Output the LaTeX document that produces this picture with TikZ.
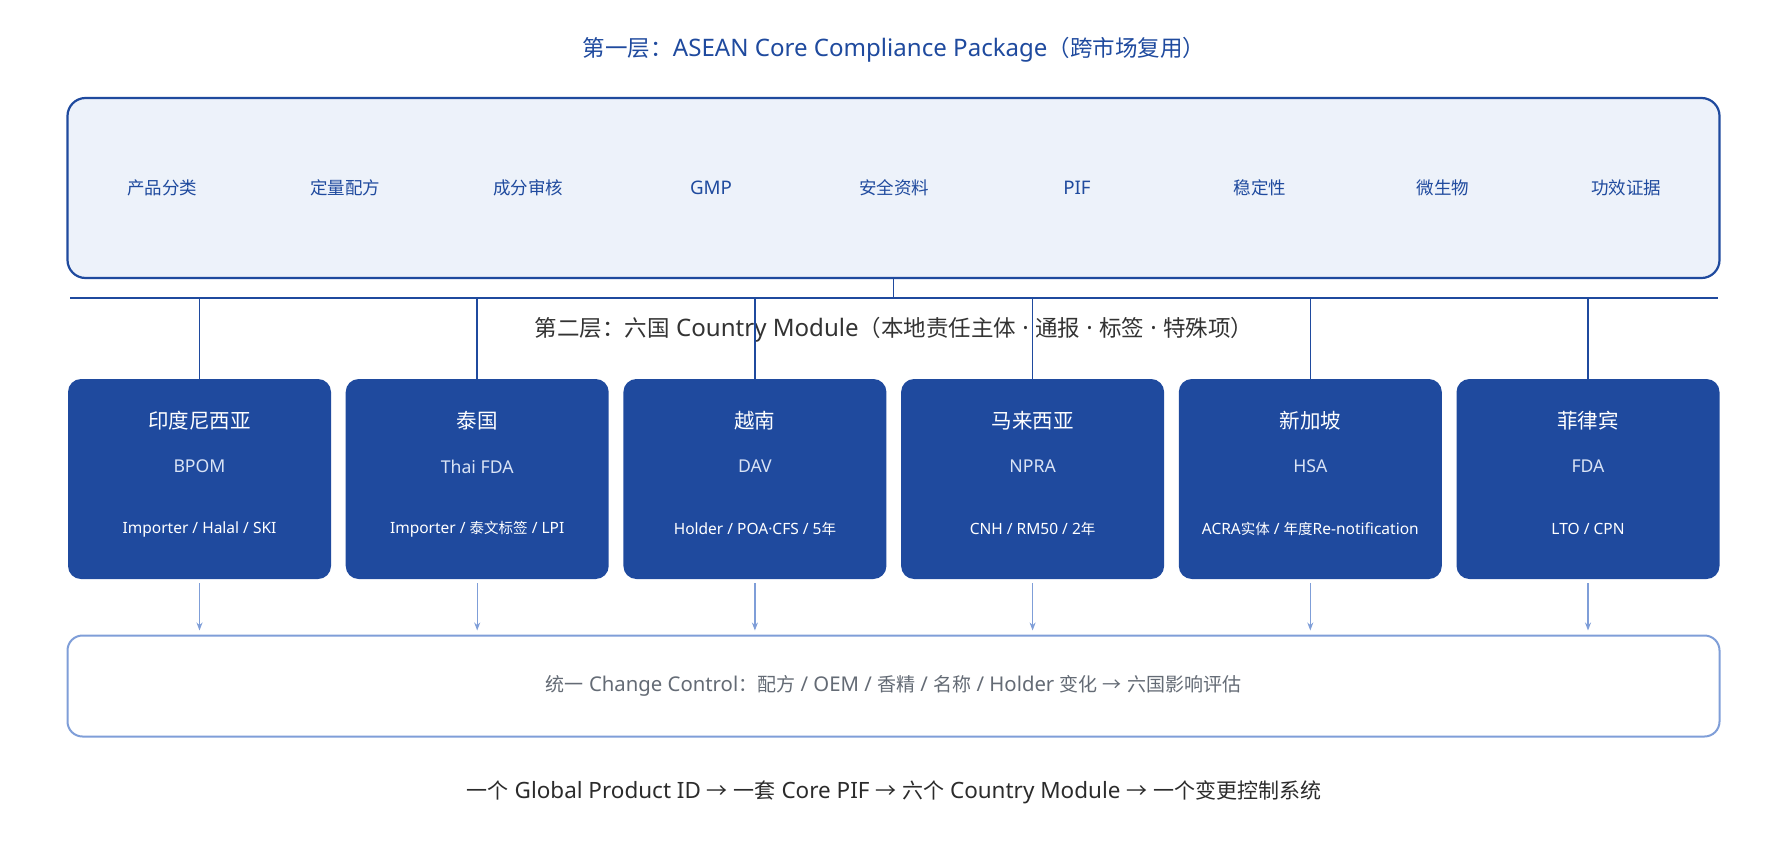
\documentclass[tikz,border=0pt]{standalone}
\usepackage{fontspec}
\setmainfont{Noto Sans CJK SC}
\newfontfamily\lat{Noto Sans}[Scale=1.07]
\usepackage{tikz}
\usetikzlibrary{arrows.meta,chains,positioning}
\definecolor{navy}{HTML}{1F4A9E}
\definecolor{paleblue}{HTML}{EDF2FA}
\definecolor{softblue}{HTML}{7F9ED8}
\definecolor{inkgray}{HTML}{333333}
\definecolor{midgray}{HTML}{646B75}
\definecolor{agencytext}{HTML}{D9E3F5}

\begin{document}
\begin{tikzpicture}[x=1pt, y=-1pt,
node distance=14.7pt,
 start chain = C going right,
    T/.style = {font=\fontsize{22.5}{26}\selectfont},
    K/.style = {font=\fontsize{17.5}{21}\selectfont, text=navy},% items of core package
    M/.style = {rectangle, rounded corners=13pt, fill=navy,% styles of country modules (chain)
                minimum width=263pt, minimum height=200pt,
                outer sep=0pt, on chain},
    N/.style = {font=\fontsize{20.5}{24}\selectfont, text=white},
   AG/.style = {font=\lat\fontsize{16.5}{21}\selectfont, text=agencytext},
    D/.style = {font=\fontsize{14.5}{18}\selectfont, text=white},
 link/.style = {navy, line width=1.6pt},
 down/.style = {softblue, line width=1.2pt, -{Stealth[length=8pt,width=6pt]}},
                        ]
\useasboundingbox (0,0) rectangle (1788,852);
% layer 1
\node[T, text=navy] (title1) at (894,50) {第一层：{\lat ASEAN Core Compliance Package}（跨市场复用）};
\node[rectangle, draw=navy, line width=2.2pt, fill=paleblue, rounded corners=18pt,
      minimum width=1652pt, minimum height=180pt] (core) at (893.5,188) {};
\foreach \t [count=\i] in {产品分类,定量配方,成分审核,{\lat GMP},安全资料,{\lat PIF},稳定性,微生物,功效证据}% <-- content of nodes
    \node[K] (k\i) at ({162+183*(\i-1)},188) {\t};
% bus
\coordinate (busL) at (70,298);
\coordinate (busR) at (1718,298);
\draw[link, line width=2pt] (busL) -- (busR);
\draw[link] (core.south) -- (core.south |- busL);
% layer 2
\node[T, text=inkgray] (title2) at (894,330)
      {第二层：六国{\lat\ Country Module}（本地责任主体{\lat\ · }通报{\lat\ · }标签{\lat\ · }特殊项）};
\node[M] at (199.5,479) {};
\foreach \i in {2,...,6}
    \node[M] {};
\foreach \n/\a/\d [count=\i] in {印度尼西亚/BPOM/{{\lat Importer / Halal / SKI}},
                                 泰国/Thai FDA/{{\lat Importer / }泰文标签{\lat\ / LPI}},
                                 越南/DAV/{{\lat Holder / POA·CFS / 5}年},
                                 马来西亚/NPRA/{{\lat CNH / RM50 / 2}年},
                                 新加坡/HSA/{{\lat ACRA}实体{\lat\ / }年度{\lat Re-notification}},
                                 菲律宾/FDA/{{\lat LTO / CPN}}}% <-- content of nodes
{
    \node[N]  (n\i) at ([yshift=58pt]C-\i.center) {\n};
    \node[AG] (a\i) at ([yshift=12.5pt]C-\i.center) {\a};
    \node[D]  (d\i) at ([yshift=-50pt]C-\i.center) {\d};
    \draw[link] (C-\i.north |- busL) -- (C-\i.north);
}
% change control
\node[rectangle, draw=softblue, line width=2pt, fill=white, rounded corners=15pt,
      minimum width=1652pt, minimum height=101pt,
      font=\fontsize{19}{22}\selectfont, text=midgray] (cc) at (893.5,686)
      {统一{\lat\ Change Control}：配方{\lat\ / OEM / }香精{\lat\ / }名称{\lat\ / Holder }变化{\lat\ }→{\lat\ }六国影响评估};
\foreach \i in {1,...,6}
    \draw[down] ([yshift=-4pt]C-\i.south) -- ([yshift=4pt]C-\i.south |- cc.north);
\node[font=\fontsize{21}{24}\selectfont, text=inkgray!85!black] (foot) at (894,792)
      {一个{\lat\ Global Product ID }→{\lat\ }一套{\lat\ Core PIF }→{\lat\ }六个{\lat\ Country Module }→{\lat\ }一个变更控制系统};
\end{tikzpicture}
\end{document}
